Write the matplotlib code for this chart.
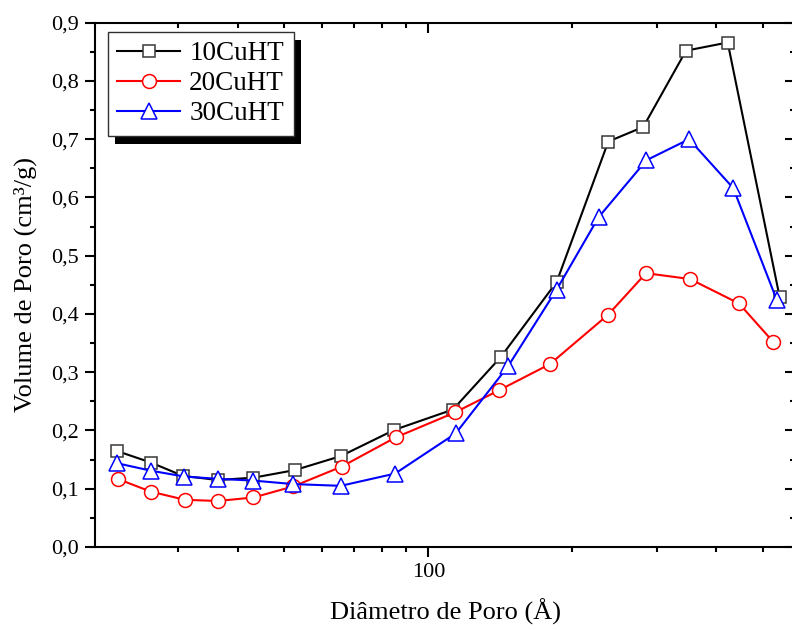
import matplotlib
matplotlib.use("Agg")
import matplotlib.pyplot as plt
from matplotlib.patches import Rectangle
from matplotlib.transforms import IdentityTransform
from matplotlib.ticker import MultipleLocator, FixedLocator, LogLocator, NullFormatter

plt.rcParams['font.family'] = ['Liberation Serif', 'DejaVu Serif']

# Pore diameter (Å) and pore volume (cm³/g) for each sample
d_10 = [22.3, 26.3, 30.7, 36.3, 43.1, 52.6, 65.6, 84.9, 112.6, 141.7, 185.5, 237.8, 281.4, 345.7, 422.5, 542.2]
v_10 = [0.165, 0.145, 0.122, 0.115, 0.119, 0.132, 0.156, 0.201, 0.236, 0.326, 0.455, 0.696, 0.721, 0.852, 0.866, 0.430]

d_20 = [22.4, 26.3, 31.0, 36.3, 43.1, 52.2, 65.9, 85.4, 113.7, 140.5, 179.6, 237.8, 285.1, 352.4, 446.1, 526.2]
v_20 = [0.117, 0.095, 0.081, 0.079, 0.085, 0.104, 0.138, 0.188, 0.231, 0.269, 0.314, 0.399, 0.470, 0.460, 0.418, 0.352]

d_30 = [22.3, 26.3, 30.85, 36.3, 43.1, 52.2, 65.6, 85.2, 114.1, 147.0, 185.5, 226.9, 285.8, 350.8, 434.0, 535.1]
v_30 = [0.144, 0.131, 0.121, 0.117, 0.114, 0.108, 0.105, 0.126, 0.195, 0.311, 0.442, 0.566, 0.664, 0.700, 0.616, 0.424]

labels = ['10CuHT', '20CuHT', '30CuHT']
y_ticks = [0.0, 0.1, 0.2, 0.3, 0.4, 0.5, 0.6, 0.7, 0.8, 0.9]
y_ticklabels = ['0,0', '0,1', '0,2', '0,3', '0,4', '0,5', '0,6', '0,7', '0,8', '0,9']

fig = plt.figure(figsize=(7.92, 6.30), dpi=100)
ax = fig.add_axes([95 / 792, 83 / 630, (795 - 95) / 792, (547 - 22.7) / 630])

ax.plot(d_10, v_10, color='black', lw=1.5, marker='s', ms=8.5, mfc='white',
        mec='#383838', mew=1.1, label=labels[0], zorder=3)
ax.plot(d_20, v_20, color='red', lw=1.5, marker='o', ms=10, mfc='white',
        mec='red', mew=1.1, label=labels[1], zorder=3)
ax.plot(d_30, v_30, color='blue', lw=1.5, marker='^', ms=11, mfc='white',
        mec='blue', mew=1.1, label=labels[2], zorder=3)

ax.set_xscale('log')
ax.set_xlim(20.1, 10 ** (2 + (795 - 428.3) / 478.4))
ax.set_ylim(0, 0.9)

ax.xaxis.set_major_locator(FixedLocator([100]))
ax.xaxis.set_minor_locator(LogLocator(base=10, subs=range(2, 10), numticks=20))
ax.xaxis.set_minor_formatter(NullFormatter())
ax.set_xticklabels(['100'])

ax.set_yticks(y_ticks)
ax.set_yticklabels(y_ticklabels)
ax.yaxis.set_minor_locator(MultipleLocator(0.05))

for side in ['left', 'bottom', 'top', 'right']:
    ax.spines[side].set_linewidth(1.5)

ax.tick_params(axis='both', which='major', labelsize=16, width=1.5, length=7.5, pad=4)
ax.tick_params(axis='both', which='minor', width=1.5, length=3.8)
ax.tick_params(axis='x', which='both', direction='out', top=True)
ax.tick_params(axis='y', which='both', direction='out', right=True)
# Mirrored ticks on top and right point inward
for t in ax.xaxis.get_major_ticks() + ax.xaxis.get_minor_ticks():
    t.tick2line.set_marker(matplotlib.lines.TICKDOWN)
for t in ax.yaxis.get_major_ticks() + ax.yaxis.get_minor_ticks():
    t.tick2line.set_marker(matplotlib.lines.TICKLEFT)

ax.set_xlabel('Diâmetro de Poro (Å)', fontsize=19, labelpad=12)
ax.set_ylabel('Volume de Poro (cm³/g)', fontsize=19, labelpad=10)

leg = ax.legend(loc='upper left', bbox_to_anchor=(13 / 700, 1 - 9.3 / 524.3),
                fontsize=19.5, frameon=True, fancybox=False, framealpha=1,
                edgecolor='#303030', handlelength=2.3, handletextpad=0.35,
                labelspacing=0.18, borderpad=0.35, borderaxespad=0)
leg.get_frame().set_linewidth(1.0)
leg.set_zorder(6)

# Solid offset shadow behind the legend frame
fig.canvas.draw()
bb = leg.get_frame().get_window_extent()
shadow = Rectangle((bb.x0 + 7, bb.y0 - 8), bb.width, bb.height, transform=IdentityTransform(),
                   facecolor='black', edgecolor='none', zorder=5.5, clip_on=False)
ax.add_patch(shadow)

fig.savefig('out.png', dpi=100, facecolor='white')
